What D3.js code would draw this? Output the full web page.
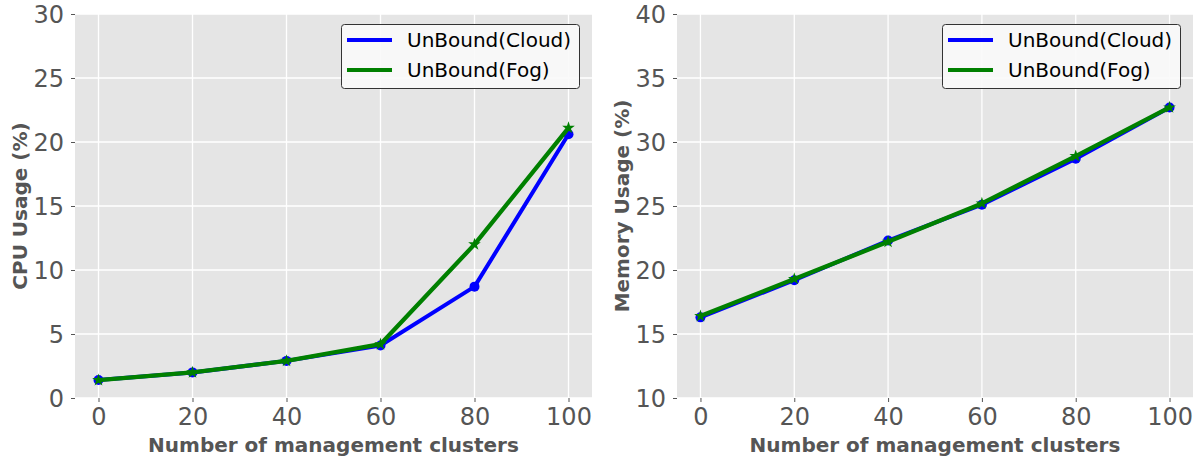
<!DOCTYPE html>
<html>
<head>
<meta charset="utf-8">
<script src="https://cdn.jsdelivr.net/npm/d3@7"></script>
<style>
  body { margin: 0; background: #fff; }
  svg { display: block; font-family: "DejaVu Sans", sans-serif; }
</style>
</head>
<body>
<div id="chart"></div>
<script>
// data
const clusters = [0, 20, 40, 60, 80, 100]
const xTicks = [0, 20, 40, 60, 80, 100]
const cpuCloud = [1.4, 2.0, 2.9, 4.1, 8.7, 20.6]
const cpuFog = [1.4, 2.0, 2.9, 4.2, 12.0, 21.1]
const memCloud = [16.3, 19.2, 22.3, 25.1, 28.7, 32.7]
const memFog = [16.4, 19.3, 22.2, 25.2, 28.9, 32.7]
const cpuTicks = [0, 5, 10, 15, 20, 25, 30]
const memTicks = [10, 15, 20, 25, 30, 35, 40]
const seriesNames = ["UnBound(Cloud)", "UnBound(Fog)"]

const svg = d3.select("#chart").append("svg")
    .attr("width", 1194)
    .attr("height", 460)

drawPanel({ left: 75, right: 592, top: 14, bottom: 398 }, cpuCloud, cpuFog, [0, 30], cpuTicks, "CPU Usage (%)", 27)
drawPanel({ left: 677, right: 1193, top: 14, bottom: 398 }, memCloud, memFog, [10, 40], memTicks, "Memory Usage (%)", 629)

function drawPanel(box, cloud, fog, yDomain, yTicks, yLabel, yLabelX) {
    var g = svg.append("g")

    var x = d3.scaleLinear().domain([-5, 105]).range([box.left, box.right])
    var y = d3.scaleLinear().domain(yDomain).range([box.bottom, box.top])

    g.append("rect")
        .attr("x", box.left).attr("y", box.top)
        .attr("width", box.right - box.left).attr("height", box.bottom - box.top)
        .attr("fill", "#e5e5e5")

    // grid
    g.selectAll(".vg").data(xTicks).enter().append("line")
        .attr("x1", d => x(d)).attr("x2", d => x(d))
        .attr("y1", box.top).attr("y2", box.bottom)
        .attr("stroke", "#fff").attr("stroke-width", 1.3)
    g.selectAll(".hg").data(yTicks).enter().append("line")
        .attr("y1", d => y(d)).attr("y2", d => y(d))
        .attr("x1", box.left).attr("x2", box.right)
        .attr("stroke", "#fff").attr("stroke-width", 1.3)

    // axes
    var xAxis = g.append("g")
        .attr("transform", "translate(0," + box.bottom + ")")
        .call(d3.axisBottom(x).tickValues(xTicks).tickSize(4).tickPadding(6))
    var yAxis = g.append("g")
        .attr("transform", "translate(" + box.left + ",0)")
        .call(d3.axisLeft(y).tickValues(yTicks).tickSize(4).tickPadding(7))
    ;[xAxis, yAxis].forEach(function (a) {
        a.select(".domain").remove()
        a.selectAll("line").attr("stroke", "#555")
        a.selectAll("text")
            .attr("fill", "#555")
            .style("font-size", "24px")
            .style("font-family", "DejaVu Sans")
    })
    yAxis.selectAll("text").attr("dy", "0.34em")

    g.append("text")
        .attr("x", (box.left + box.right) / 2)
        .attr("y", 452)
        .attr("text-anchor", "middle")
        .attr("fill", "#555")
        .style("font-size", "20px")
        .style("font-weight", "bold")
        .text("Number of management clusters")

    g.append("text")
        .attr("transform", "translate(" + yLabelX + "," + ((box.top + box.bottom) / 2) + ") rotate(-90)")
        .attr("text-anchor", "middle")
        .attr("fill", "#555")
        .style("font-size", "20px")
        .style("font-weight", "bold")
        .text(yLabel)

    var line = d3.line()
        .x(function (d, i) { return x(clusters[i]) })
        .y(function (d) { return y(d) })

    // cloud series
    g.append("path").datum(cloud)
        .attr("d", line)
        .attr("fill", "none")
        .attr("stroke", "#0000ff")
        .attr("stroke-width", 4)
        .attr("stroke-linejoin", "round")
    g.selectAll(".dot").data(cloud).enter().append("circle")
        .attr("cx", (d, i) => x(clusters[i]))
        .attr("cy", d => y(d))
        .attr("r", 5)
        .attr("fill", "#0000ff")

    // fog series
    g.append("path").datum(fog)
        .attr("d", line)
        .attr("fill", "none")
        .attr("stroke", "#008000")
        .attr("stroke-width", 4.3)
        .attr("stroke-linejoin", "round")
    var star = d3.symbol().type(d3.symbolStar).size(50)
    g.selectAll(".star").data(fog).enter().append("path")
        .attr("d", star)
        .attr("transform", (d, i) => "translate(" + x(clusters[i]) + "," + y(d) + ")")
        .attr("fill", "#008000")

    // legend
    var lx = box.right - 251, ly = 24
    var leg = g.append("g").attr("transform", "translate(" + lx + "," + ly + ")")
    leg.append("rect")
        .attr("x", 0.5).attr("y", 0.5)
        .attr("width", 238).attr("height", 64)
        .attr("rx", 3)
        .attr("fill", "#fafafa").attr("fill-opacity", 0.9)
        .attr("stroke", "#333").attr("stroke-width", 1)
    var colors = ["#0000ff", "#008000"]
    seriesNames.forEach(function (name, i) {
        leg.append("line")
            .attr("x1", 6).attr("x2", 51)
            .attr("y1", 16 + i * 30).attr("y2", 16 + i * 30)
            .attr("stroke", colors[i]).attr("stroke-width", 4)
        leg.append("text")
            .attr("x", 66).attr("y", 16 + i * 30)
            .attr("dy", "0.36em")
            .attr("fill", "#000")
            .style("font-size", "20px")
            .text(name)
    })
}
</script>
</body>
</html>
